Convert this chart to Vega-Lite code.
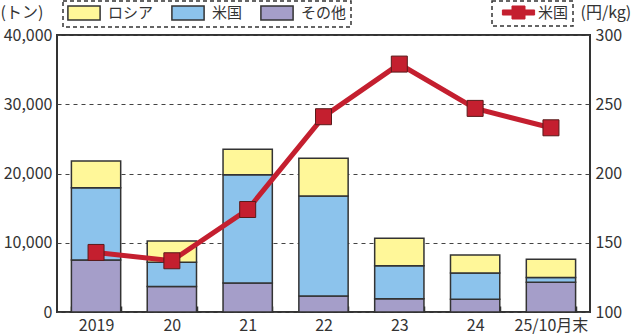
{
  "$schema": "https://vega.github.io/schema/vega-lite/v6.json",
  "width": 533,
  "height": 277,
  "autosize": {"type": "none"},
  "padding": {"left": 57, "top": 35, "right": 50, "bottom": 22},
  "background": "white",
  "config": {
    "font": "Noto Sans CJK JP",
    "view": {"stroke": "#333", "strokeWidth": 2},
    "axis": {
      "labelFont": "Noto Sans CJK JP",
      "labelFontSize": 16,
      "labelColor": "#333",
      "domain": false,
      "titleFont": "Noto Sans CJK JP",
      "titleFontSize": 16,
      "titleColor": "#333",
      "titleFontWeight": "normal"
    },
    "legend": {
      "labelFont": "Noto Sans CJK JP",
      "labelFontSize": 15,
      "labelColor": "#333"
    }
  },
  "datasets": {
    "volume": [
      {"year": "2019", "series": "その他", "tons": 7500},
      {"year": "2019", "series": "米国", "tons": 10450},
      {"year": "2019", "series": "ロシア", "tons": 3850},
      {"year": "20", "series": "その他", "tons": 3700},
      {"year": "20", "series": "米国", "tons": 3480},
      {"year": "20", "series": "ロシア", "tons": 3070},
      {"year": "21", "series": "その他", "tons": 4200},
      {"year": "21", "series": "米国", "tons": 15630},
      {"year": "21", "series": "ロシア", "tons": 3670},
      {"year": "22", "series": "その他", "tons": 2300},
      {"year": "22", "series": "米国", "tons": 14450},
      {"year": "22", "series": "ロシア", "tons": 5450},
      {"year": "23", "series": "その他", "tons": 1930},
      {"year": "23", "series": "米国", "tons": 4760},
      {"year": "23", "series": "ロシア", "tons": 3950},
      {"year": "24", "series": "その他", "tons": 1830},
      {"year": "24", "series": "米国", "tons": 3800},
      {"year": "24", "series": "ロシア", "tons": 2600},
      {"year": "25/10月末", "series": "その他", "tons": 4290},
      {"year": "25/10月末", "series": "米国", "tons": 710},
      {"year": "25/10月末", "series": "ロシア", "tons": 2600}
    ],
    "price": [
      {"year": "2019", "series": "米国", "yen": 143},
      {"year": "20", "series": "米国", "yen": 137},
      {"year": "21", "series": "米国", "yen": 174},
      {"year": "22", "series": "米国", "yen": 241},
      {"year": "23", "series": "米国", "yen": 279},
      {"year": "24", "series": "米国", "yen": 247},
      {"year": "25/10月末", "series": "米国", "yen": 233}
    ]
  },
  "layer": [
    {
      "data": {"name": "volume"},
      "transform": [
        {"calculate": "indexof(['その他', '米国', 'ロシア'], datum.series)", "as": "stackOrder"}
      ],
      "mark": {"type": "bar", "stroke": "#333", "strokeWidth": 1.5},
      "encoding": {
        "x": {
          "field": "year",
          "type": "nominal",
          "sort": null,
          "scale": {"paddingInner": 0.35, "paddingOuter": 0.19},
          "axis": {
            "title": null,
            "labelAngle": 0,
            "tickBand": "extent",
            "offset": -6,
            "tickSize": 6,
            "tickColor": "#333",
            "tickWidth": 1.5,
            "labelPadding": 5
          }
        },
        "y": {
          "field": "tons",
          "type": "quantitative",
          "stack": "zero",
          "scale": {"domain": [0, 40000], "nice": false},
          "axis": {
            "values": [0, 10000, 20000, 30000, 40000],
            "format": ",d",
            "grid": true,
            "gridDash": [4, 4],
            "gridColor": "#444",
            "gridWidth": 1.2,
            "ticks": false,
            "labelPadding": 5,
            "title": "(トン)",
            "titleAngle": 0,
            "titleX": -57,
            "titleY": -23,
            "titleAlign": "left",
            "titleBaseline": "middle"
          }
        },
        "order": {"field": "stackOrder", "type": "quantitative", "sort": "ascending"},
        "fill": {
          "field": "series",
          "type": "nominal",
          "sort": ["ロシア", "米国", "その他"],
          "scale": {
            "domain": ["ロシア", "米国", "その他"],
            "range": ["#fff799", "#8cc3ec", "#a59ec9"]
          },
          "legend": {
            "title": null,
            "orient": "none",
            "legendX": 6,
            "legendY": -34,
            "direction": "horizontal",
            "columns": 3,
            "columnPadding": 14,
            "padding": 4,
            "strokeColor": "#333",
            "symbolType": "M-2.3,-1H2.3V1H-2.3Z",
            "symbolSize": 196,
            "symbolOffset": 9,
            "labelOffset": 16,
            "symbolStrokeColor": "#333",
            "symbolStrokeWidth": 1.5,
            "symbolOpacity": 1,
            "encode": {
              "legend": {"update": {"strokeDash": {"value": [4, 3]}, "strokeWidth": {"value": 1.5}}},
              "symbols": {"update": {"stroke": {"value": "#333"}, "strokeWidth": {"value": 1.5}}}
            }
          }
        }
      }
    },
    {
      "data": {"name": "price"},
      "encoding": {
        "x": {"field": "year", "type": "nominal", "sort": null},
        "y": {
          "field": "yen",
          "type": "quantitative",
          "scale": {"domain": [100, 300], "nice": false},
          "axis": {
            "orient": "right",
            "values": [100, 150, 200, 250, 300],
            "grid": false,
            "ticks": false,
            "labelPadding": 5,
            "title": "(円/kg)",
            "titleAngle": 0,
            "titleX": -10,
            "titleY": -23,
            "titleAlign": "left",
            "titleBaseline": "middle"
          }
        }
      },
      "layer": [
        {
          "mark": {"type": "line", "strokeWidth": 5},
          "encoding": {
            "stroke": {
              "field": "series",
              "type": "nominal",
              "scale": {"domain": ["米国"], "range": ["#c41f2f"]},
              "legend": {
                "title": null,
                "orient": "none",
                "legendX": 435,
                "legendY": -34,
                "direction": "horizontal",
                "padding": 4,
                "strokeColor": "#333",
                "symbolType": "M-2.3,-0.36H-0.93V-0.93H0.93V-0.36H2.3V0.36H0.93V0.93H-0.93V0.36H-2.3Z",
                "symbolSize": 196,
                "symbolOffset": 15,
                "labelOffset": 12,
                "symbolFillColor": "#c41f2f",
                "symbolStrokeWidth": 1,
                "symbolOpacity": 1,
                "encode": {
                  "legend": {"update": {"strokeDash": {"value": [4, 3]}, "strokeWidth": {"value": 1.5}}},
                  "symbols": {"update": {"fill": {"value": "#c41f2f"}, "stroke": {"value": "#7a1a20"}, "strokeWidth": {"value": 1}}}
                }
              }
            }
          }
        },
        {
          "mark": {
            "type": "point",
            "shape": "square",
            "size": 256,
            "filled": true,
            "fill": "#c41f2f",
            "stroke": "#5a1a1a",
            "strokeWidth": 1,
            "opacity": 1
          }
        }
      ]
    }
  ],
  "resolve": {"scale": {"y": "independent"}}
}
